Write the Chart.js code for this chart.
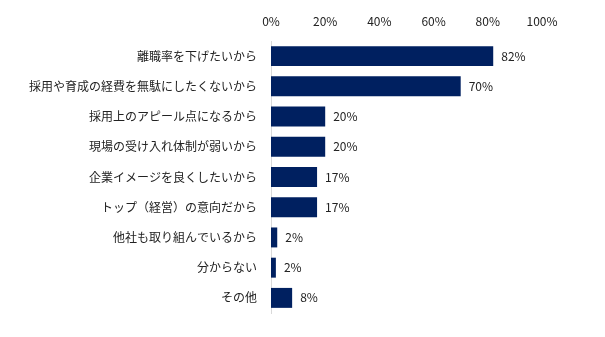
<!DOCTYPE html>
<html>
<head>
<meta charset="utf-8">
<script src="https://cdn.jsdelivr.net/npm/chart.js@4/dist/chart.umd.min.js"></script>
<style>
  html, body { margin: 0; padding: 0; background: #fff; }
  #wrap { width: 605px; height: 337px; }
</style>
</head>
<body>
<div id="wrap"><canvas id="reasonChart"></canvas></div>
<script>
const categories = [
    '離職率を下げたいから',
    '採用や育成の経費を無駄にしたくないから',
    '採用上のアピール点になるから',
    '現場の受け入れ体制が弱いから',
    '企業イメージを良くしたいから',
    'トップ（経営）の意向だから',
    '他社も取り組んでいるから',
    '分からない',
    'その他'
];
const values = [82, 70, 20, 20, 17, 17, 2.3, 1.8, 7.8];
const valueLabels = ['82%', '70%', '20%', '20%', '17%', '17%', '2%', '2%', '8%'];
const tickValues = [0, 20, 40, 60, 80, 100];

const fontFamily = "'Noto Sans CJK JP', 'Noto Sans', sans-serif";

// draws the percentage next to each bar
const barLabels = {
    id: 'barLabels',
    afterDatasetsDraw(chart) {
        const ctx = chart.ctx;
        const meta = chart.getDatasetMeta(0);
        ctx.save();
        ctx.font = '12px ' + fontFamily;
        ctx.fillStyle = '#222';
        ctx.textAlign = 'left';
        ctx.textBaseline = 'middle';
        meta.data.forEach((bar, i) => {
            ctx.fillText(valueLabels[i], bar.x + 8, bar.y);
        });
        ctx.restore();
    }
};

const ctx = document.getElementById('reasonChart').getContext('2d');
const reasonChart = new Chart(ctx, {
    type: 'bar',
    data: {
        labels: categories,
        datasets: [{
            data: values,
            backgroundColor: '#002060',
            borderWidth: 0,
            barPercentage: 0.66,
            categoryPercentage: 1
        }]
    },
    options: {
        indexAxis: 'y',
        responsive: true,
        maintainAspectRatio: false,
        animation: false,
        layout: {
            padding: { left: 0, right: 63, top: 8, bottom: 24 }
        },
        plugins: {
            legend: { display: false },
            tooltip: { enabled: false }
        },
        scales: {
            x: {
                position: 'top',
                min: 0,
                max: 100,
                afterBuildTicks: axis => {
                    axis.ticks = tickValues.map(v => ({ value: v }));
                },
                afterFit: axis => { axis.height = 33; },
                grid: { display: false, drawTicks: false },
                border: { display: false },
                ticks: {
                    padding: 12,
                    color: '#222',
                    font: { family: fontFamily, size: 12 },
                    callback: v => v + '%'
                }
            },
            y: {
                afterFit: axis => { axis.width = 271; },
                grid: { display: false, drawTicks: false },
                border: { display: true, color: '#d9d9d9', width: 1 },
                ticks: {
                    padding: 14,
                    color: '#222',
                    font: { family: fontFamily, size: 12 }
                }
            }
        }
    },
    plugins: [barLabels]
});
</script>
</body>
</html>
